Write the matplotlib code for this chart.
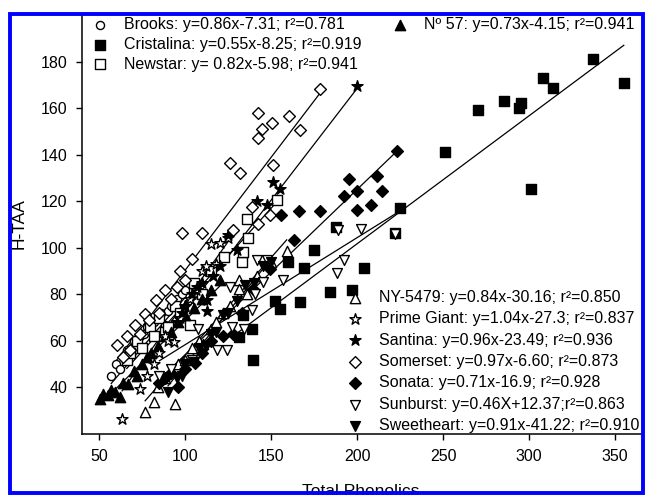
import numpy as np
import matplotlib.pyplot as plt
from matplotlib.patches import Rectangle

plt.rcParams['font.family'] = ['Liberation Sans', 'DejaVu Sans']

# cultivars, regression coefficients (from the labels) and legend text
cultivars = ['Brooks', 'Cristalina', 'Newstar', 'No57', 'NY-5479', 'Prime Giant',
             'Santina', 'Somerset', 'Sonata', 'Sunburst', 'Sweetheart']
slopes = [0.86, 0.55, 0.82, 0.73, 0.84, 1.04, 0.96, 0.97, 0.71, 0.46, 0.91]
intercepts = [-7.31, -8.25, -5.98, -4.15, -30.16, -27.3, -23.49, -6.60, -16.9, 12.37, -41.22]
labels = ['Brooks: y=0.86x-7.31; r²=0.781',
          'Cristalina: y=0.55x-8.25; r²=0.919',
          'Newstar: y= 0.82x-5.98; r²=0.941',
          'Nº 57: y=0.73x-4.15; r²=0.941',
          'NY-5479: y=0.84x-30.16; r²=0.850',
          'Prime Giant: y=1.04x-27.3; r²=0.837',
          'Santina: y=0.96x-23.49; r²=0.936',
          'Somerset: y=0.97x-6.60; r²=0.873',
          'Sonata: y=0.71x-16.9; r²=0.928',
          'Sunburst: y=0.46X+12.37;r²=0.863',
          'Sweetheart: y=0.91x-41.22; r²=0.910']

# total phenolics (x) and H-TAA (y) per cultivar
brooks_x = [57, 60, 62, 64, 66, 68, 70, 72, 74, 76, 78, 80, 82, 84, 86, 88, 90, 92, 95, 98, 100, 77]
brooks_y = [45, 50, 48, 53, 56, 55, 60, 58, 62, 63, 66, 64, 68, 70, 72, 67, 73, 75, 78, 80, 82, 71]

cristalina_x = [139.7, 131, 138.8, 133.5, 152, 155, 166.9, 160, 168.8, 174.6, 184, 197, 187.8,
                204, 222, 225, 250.8, 270, 285.5, 294, 295, 301, 308, 314, 337, 355]
cristalina_y = [51.6, 61.6, 65.2, 71, 77, 73.8, 76.7, 94, 91.3, 98.9, 81, 82, 109,
                91.5, 106.5, 117.3, 141.3, 159, 162.9, 160, 162.3, 125.3, 173, 168.7, 181, 170.6]

newstar_x = [66, 68, 72, 75, 79.7, 82, 85, 88, 90, 94, 97, 102.9, 105, 110, 115, 122.7,
             132.9, 133.5, 136.3, 135.7, 153.3]
newstar_y = [52, 55, 60, 57, 65.9, 62, 70, 64, 66, 75, 72, 67, 85, 80, 90, 96,
             94, 98.4, 104.4, 112.3, 120.6]

no57_x = [50.6, 52, 55.4, 57, 59, 62.2, 64, 67, 70, 72, 75, 78, 80, 84, 88, 92, 96,
          100, 105, 110, 115, 120]
no57_y = [35.1, 37, 36.6, 39, 38, 35.8, 42, 41.6, 47, 45, 50, 53, 55, 58, 62, 64, 68,
          71, 74, 78, 82, 86]

ny5479_x = [76.7, 81.6, 94, 84, 88, 92, 96, 100, 104, 108, 110.6, 115, 118, 122, 126,
            131, 131.5, 136, 142, 150, 159]
ny5479_y = [29.5, 33.7, 33, 40, 44, 47, 50, 52, 57, 60, 58.8, 65, 68, 72, 75,
            86, 82.4, 80, 88, 94, 98.6]

primegiant_x = [63.3, 74, 78, 82, 85, 88, 90, 93.6, 97, 100, 103, 106, 110, 112, 115,
                120.5, 125, 118]
primegiant_y = [26.5, 39.4, 45, 50, 55, 62, 60, 59.5, 70, 75, 78, 82, 90, 92, 101.5,
                102.2, 104, 93]

santina_x = [95, 98, 100, 104, 107, 110, 112.6, 112.6, 116, 120, 124.8, 130, 141.7,
             147.5, 151.3, 155, 199.8]
santina_y = [68, 72, 75, 80, 83, 85, 73, 77.4, 88, 92, 105.6, 98.9, 120.3,
             118.3, 128.3, 125.4, 169.5]

somerset_x = [60.3, 64, 66, 68, 71, 74, 76.7, 78.7, 83, 85, 88, 92, 95, 97, 100, 103.9,
              98, 109.7, 128, 138.8, 142.6, 149.4, 125.8, 132, 151.3, 142.3, 144.9,
              150.7, 142.6, 160.6, 166.9, 178.5]
somerset_y = [58.3, 53, 62, 56, 66.7, 63, 71.7, 68.8, 77.4, 72, 81.7, 78, 83, 90, 86, 95.3,
              106.4, 106.3, 107.5, 117.5, 110.4, 114, 136.5, 132, 135.5, 147.3, 151,
              153.4, 158.1, 156.7, 150.8, 168]

sonata_x = [85, 88, 92, 96, 100, 105.8, 110, 115, 122, 128, 133, 139.7, 149.4, 155.5,
            163.1, 166.2, 178.5, 192.6, 195.5, 199.8, 199.8, 208.3, 211.6, 214.7, 223]
sonata_y = [42, 44, 46, 40, 48, 50.3, 55, 60, 62, 63, 72, 82.4, 91, 113.9,
            103.5, 115.6, 115.6, 122.3, 129.7, 124.6, 116.4, 118.4, 130.7, 124.2, 141.5]

sunburst_x = [85, 92, 100, 103.8, 107.7, 112, 118.4, 124.2, 126.2, 127, 133.9, 138.8,
              140.7, 141.7, 145.5, 147.5, 157, 188.2, 192.6, 188.6, 202.3, 222]
sunburst_y = [45, 48, 50, 51.6, 65.2, 58, 55.9, 55.9, 83.1, 66, 65.2, 73.1,
              80.3, 94.6, 85.3, 94.6, 86, 89.2, 94.6, 107.5, 108.2, 106]

sweetheart_x = [90, 95, 98, 100, 105, 108, 112, 115, 118, 122, 125, 130, 135, 140, 145, 150]
sweetheart_y = [38, 44, 45, 50, 51, 57, 58, 63, 64, 71, 72, 77, 84, 85, 92, 94]

xs = [brooks_x, cristalina_x, newstar_x, no57_x, ny5479_x, primegiant_x,
      santina_x, somerset_x, sonata_x, sunburst_x, sweetheart_x]
ys = [brooks_y, cristalina_y, newstar_y, no57_y, ny5479_y, primegiant_y,
      santina_y, somerset_y, sonata_y, sunburst_y, sweetheart_y]

# marker style per cultivar: (marker, face, size)
styles = [('o', 'white', 34), ('s', 'black', 52), ('s', 'white', 52), ('^', 'black', 55),
          ('^', 'white', 55), ('*', 'white', 70), ('*', 'black', 70), ('D', 'white', 36),
          ('D', 'black', 36), ('v', 'white', 50), ('v', 'black', 50)]

fig = plt.figure(figsize=(6.45, 4.95), dpi=100)
ax = fig.add_axes([82/645, 1 - 434/495, (641 - 82)/645, (434 - 15)/495])

# regression lines over each cultivar's range
for x, m, b in zip(xs, slopes, intercepts):
    xr = np.array([min(x), max(x)])
    ax.plot(xr, m*xr + b, color='black', lw=0.9, zorder=2)

handles = []
for x, y, (mk, fc, s) in zip(xs, ys, styles):
    h = ax.scatter(x, y, marker=mk, s=s, facecolor=fc, edgecolor='black',
                   linewidths=1.0, zorder=3)
    handles.append(h)

ax.set_xlim(40, 365)
ax.set_ylim(20, 200)
ax.set_xticks([50, 100, 150, 200, 250, 300, 350])
ax.set_yticks([40, 60, 80, 100, 120, 140, 160, 180])
ax.tick_params(direction='out', length=4.5, width=1, labelsize=11.5, pad=6)
for sp in ['top', 'right']:
    ax.spines[sp].set_visible(False)
for sp in ['left', 'bottom']:
    ax.spines[sp].set_linewidth(1.1)

leg_kw = dict(frameon=False, fontsize=11.5, handlelength=1.0, handletextpad=1.0,
              borderpad=0, borderaxespad=0, labelspacing=0.4, loc='upper left')
leg1 = ax.legend([handles[i] for i in (0, 1, 2)], [labels[i] for i in (0, 1, 2)],
                 bbox_to_anchor=(0.018, 0.995), **dict(leg_kw, labelspacing=0.3))
ax.add_artist(leg1)
leg2 = ax.legend([handles[3]], [labels[3]], bbox_to_anchor=(0.555, 0.995), **leg_kw)
ax.add_artist(leg2)
ax.legend(handles[4:], labels[4:], bbox_to_anchor=(0.474, 0.344), **leg_kw)

fig.text(19/645, 1 - 224/495, 'H-TAA', rotation=90, ha='center', va='center', fontsize=12.5)
fig.text(361/645, -1/495, 'Total Phenolics', ha='center', va='baseline', fontsize=12.5)

# blue selection frame around the figure
fig.add_artist(Rectangle((9.5/645, 2/495), (643 - 9.5)/645, (493 - 14)/495,
                         transform=fig.transFigure, fill=False, edgecolor='#0000ff',
                         lw=2.8, zorder=10))

fig.savefig('out.png', dpi=100)
